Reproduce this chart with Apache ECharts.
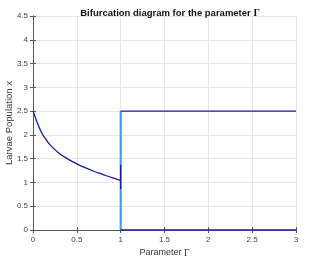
<!DOCTYPE html>
<html><head><meta charset="utf-8">
<script src="https://cdn.jsdelivr.net/npm/echarts@6/dist/echarts.min.js"></script>
<style>html,body{margin:0;padding:0;background:#fff}#c{width:317px;height:261px}</style>
</head><body><div id="c"></div>
<script>
// Stable branch for Gamma < 1
const gammaCurve = [0, 0.02, 0.05, 0.1, 0.15, 0.2, 0.3, 0.4, 0.5, 0.6, 0.7, 0.8, 0.9, 1.0];
const xCurve     = [2.5, 2.4, 2.25, 2.04, 1.9, 1.78, 1.61, 1.49, 1.39, 1.305, 1.23, 1.165, 1.1, 1.04];
// Transient spike at Gamma = 1
const spikeGamma = [1, 1];
const spikeX     = [1.37, 0.86];
// Branches for Gamma > 1
const upperGamma = [1, 3];
const upperX     = [2.5, 2.5];
const lowerGamma = [1, 3];
const lowerX     = [0, 0];
// Jump at Gamma = 1
const jumpGamma  = [1, 1];
const jumpX      = [0, 2.5];
const xTicks = [0, 0.5, 1, 1.5, 2, 2.5, 3];
const yTicks = [0, 0.5, 1, 1.5, 2, 2.5, 3, 3.5, 4, 4.5];

const zip = (a, b) => a.map((v, i) => [v, b[i]]);
const dark = '#1a1aa6';
const light = '#3a97d8';
const axisCol = '#555';
const chart = echarts.init(document.getElementById('c'), null, {renderer: 'canvas'});
const fmt = v => String(v);
chart.setOption({
  animation: false,
  title: {
    text: 'Bifurcation diagram for the parameter {g|Γ}',
    left: 165, top: 3, textAlign: 'center',
    textStyle: {fontFamily: 'Liberation Sans, Arial', fontSize: 9.5, fontWeight: 'bold', color: '#111',
      rich: {g: {fontFamily: 'Liberation Serif, Times New Roman', fontSize: 10, fontWeight: 'bold', color: '#111'}}}
  },
  grid: {left: 33, right: 21, top: 16, bottom: 31, containLabel: false, outerBoundsMode: 'none'},
  xAxis: [{
    type: 'value', min: 0, max: 3, interval: 0.5,
    name: 'Parameter {g|Γ}', nameLocation: 'middle', nameGap: 18, nameMoveOverlap: false,
    nameTextStyle: {fontFamily: 'Liberation Sans, Arial', fontSize: 9, color: '#333',
      rich: {g: {fontFamily: 'Liberation Serif, Times New Roman', fontSize: 9.5, color: '#333'}}},
    axisLine: {show: true, lineStyle: {color: axisCol, width: 1}},
    axisTick: {show: true, inside: true, length: 3, lineStyle: {color: axisCol}},
    axisLabel: {fontFamily: 'Liberation Sans, Arial', fontSize: 8, color: '#444', margin: 6, formatter: fmt},
    splitLine: {show: true, lineStyle: {color: '#e6e6e6', width: 1}}
  }, {
    type: 'value', min: 0, max: 3, interval: 0.5, position: 'top',
    axisLine: {show: true, lineStyle: {color: axisCol, width: 1}},
    axisTick: {show: true, inside: true, length: 3, lineStyle: {color: axisCol}},
    axisLabel: {show: false}, splitLine: {show: false}
  }],
  yAxis: [{
    type: 'value', min: 0, max: 4.5, interval: 0.5,
    name: 'Larvae Population x', nameLocation: 'middle', nameGap: 19, nameMoveOverlap: false,
    nameTextStyle: {fontFamily: 'Liberation Sans, Arial', fontSize: 9.5, color: '#333'},
    axisLine: {show: true, lineStyle: {color: axisCol, width: 1}},
    axisTick: {show: true, inside: true, length: 3, lineStyle: {color: axisCol}},
    axisLabel: {fontFamily: 'Liberation Sans, Arial', fontSize: 8, color: '#444', margin: 5, formatter: fmt},
    splitLine: {show: true, lineStyle: {color: '#e6e6e6', width: 1}}
  }, {
    type: 'value', min: 0, max: 4.5, interval: 0.5, position: 'right',
    axisLine: {show: true, lineStyle: {color: axisCol, width: 1}},
    axisTick: {show: true, inside: true, length: 3, lineStyle: {color: axisCol}},
    axisLabel: {show: false}, splitLine: {show: false}
  }],
  series: [
    {type: 'line', data: zip(jumpGamma, jumpX), showSymbol: false, lineStyle: {color: light, width: 2}, z: 2},
    {type: 'line', data: zip(gammaCurve, xCurve), showSymbol: false, smooth: 0.4, lineStyle: {color: dark, width: 1.3}, z: 3},
    {type: 'line', data: zip(spikeGamma, spikeX), showSymbol: false, lineStyle: {color: dark, width: 1.3}, z: 3},
    {type: 'line', data: zip(upperGamma, upperX), showSymbol: false, lineStyle: {color: dark, width: 1.3}, z: 3},
    {type: 'line', data: zip(lowerGamma, lowerX), showSymbol: false, lineStyle: {color: dark, width: 1.6}, z: 3}
  ]
});
</script></body></html>
